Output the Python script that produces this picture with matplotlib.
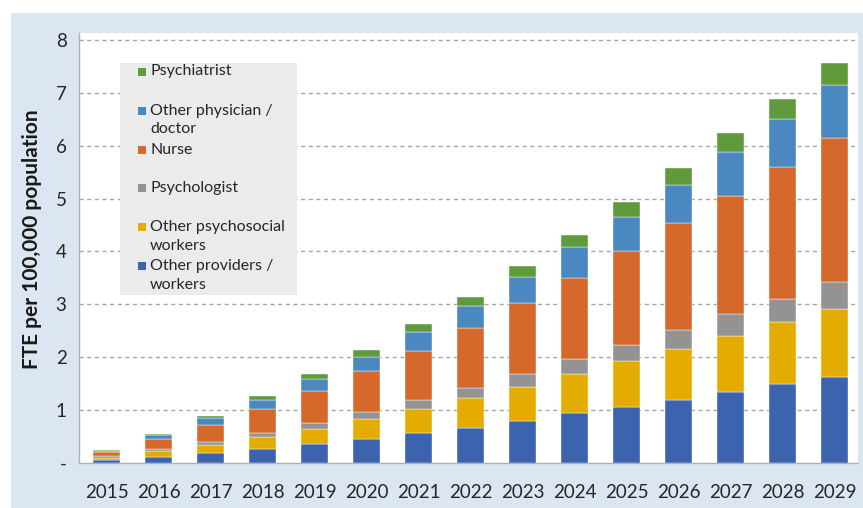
import matplotlib

matplotlib.use("Agg")
import matplotlib.pyplot as plt
from matplotlib.patches import Rectangle
import numpy as np

plt.rcParams["font.family"] = ["Lato", "DejaVu Sans"]

years = [str(y) for y in range(2015, 2030)]

# per-segment values (FTE per 100,000 population), bottom to top
other_providers = [0.05, 0.11, 0.18, 0.26, 0.35, 0.45, 0.57, 0.67, 0.80, 0.94, 1.06, 1.20, 1.35, 1.49, 1.63]
other_psychosocial = [0.05, 0.11, 0.16, 0.24, 0.30, 0.38, 0.45, 0.55, 0.64, 0.74, 0.86, 0.96, 1.06, 1.18, 1.29]
psychologist = [0.03, 0.04, 0.06, 0.07, 0.11, 0.13, 0.17, 0.20, 0.24, 0.28, 0.32, 0.35, 0.40, 0.44, 0.50]
nurse = [0.07, 0.19, 0.32, 0.46, 0.60, 0.77, 0.93, 1.14, 1.34, 1.54, 1.77, 2.02, 2.24, 2.48, 2.72]
other_physician = [0.02, 0.07, 0.13, 0.17, 0.22, 0.27, 0.35, 0.41, 0.49, 0.58, 0.65, 0.73, 0.83, 0.91, 1.01]
psychiatrist = [0.03, 0.03, 0.04, 0.07, 0.10, 0.13, 0.15, 0.17, 0.21, 0.24, 0.28, 0.31, 0.35, 0.39, 0.42]

series = [
    ("Other providers /\nworkers", other_providers, "#3b63ae"),
    ("Other psychosocial\nworkers", other_psychosocial, "#e4ab00"),
    ("Psychologist", psychologist, "#939393"),
    ("Nurse", nurse, "#d5692b"),
    ("Other physician /\ndoctor", other_physician, "#4a88c2"),
    ("Psychiatrist", psychiatrist, "#5f9a3d"),
]

W, H = 863, 508
fig = plt.figure(figsize=(W / 100, H / 100), dpi=100, facecolor="white")


def fx(x):
    return x / W


def fy(y):
    return 1 - y / H


# light blue panel behind the chart
fig.patches.append(Rectangle((fx(11), 0), 1 - fx(11), fy(13), transform=fig.transFigure,
                             facecolor="#dce6f2", edgecolor="none", zorder=-5))

ax = fig.add_axes([fx(79), fy(463), fx(858) - fx(79), fy(33) - fy(463)])
ax.set_facecolor("white")

x = np.arange(len(years))
bottom = np.zeros(len(years))
for label, vals, color in series:
    ax.bar(x, vals, width=0.51, bottom=bottom, color=color, edgecolor="white",
           linewidth=0.3, zorder=3)
    bottom += np.array(vals)

ax.set_xlim(-0.53, 14.45)
ax.set_ylim(0, 8.13)
ax.set_yticks(range(0, 9))
ax.set_yticklabels(["-"] + [str(i) for i in range(1, 9)])
ax.set_xticks(x)
ax.set_xticklabels(years)
ax.tick_params(axis="both", length=0, labelsize=13.5, colors="#262626")
ax.tick_params(axis="x", pad=15)
ax.tick_params(axis="y", pad=9)

for yv in range(1, 9):
    ax.axhline(yv, color="#a6a6a6", linestyle=(0, (3, 2.5)), linewidth=1.0, zorder=1)

for side in ["top", "right"]:
    ax.spines[side].set_visible(False)
for side in ["left", "bottom"]:
    ax.spines[side].set_color("#b0b0b0")
    ax.spines[side].set_linewidth(1.0)

ax.set_ylabel("FTE per 100,000 population", fontsize=15, fontweight="bold",
              color="#1a1a1a")
ax.yaxis.set_label_coords(-0.047, 0.52)

# legend panel drawn by hand (markers aligned with first text line)
fig.patches.append(Rectangle((fx(120), fy(295)), fx(297) - fx(120), fy(63) - fy(295),
                             transform=fig.transFigure, facecolor="#ebebeb",
                             edgecolor="none", zorder=4))
legend_y = [71.5, 110.5, 149.5, 188, 227, 266]
for (label, vals, color), ly in zip(series[::-1], legend_y):
    fig.patches.append(Rectangle((fx(138), fy(ly + 4)), fx(8), fy(0) - fy(8),
                                 transform=fig.transFigure, facecolor=color,
                                 edgecolor="none", zorder=5))
    fig.text(fx(150), fy(ly - 7), label, fontsize=11.5, color="#262626",
             va="top", ha="left", linespacing=1.45, zorder=6)

fig.savefig("out.png", dpi=100, facecolor="white")
